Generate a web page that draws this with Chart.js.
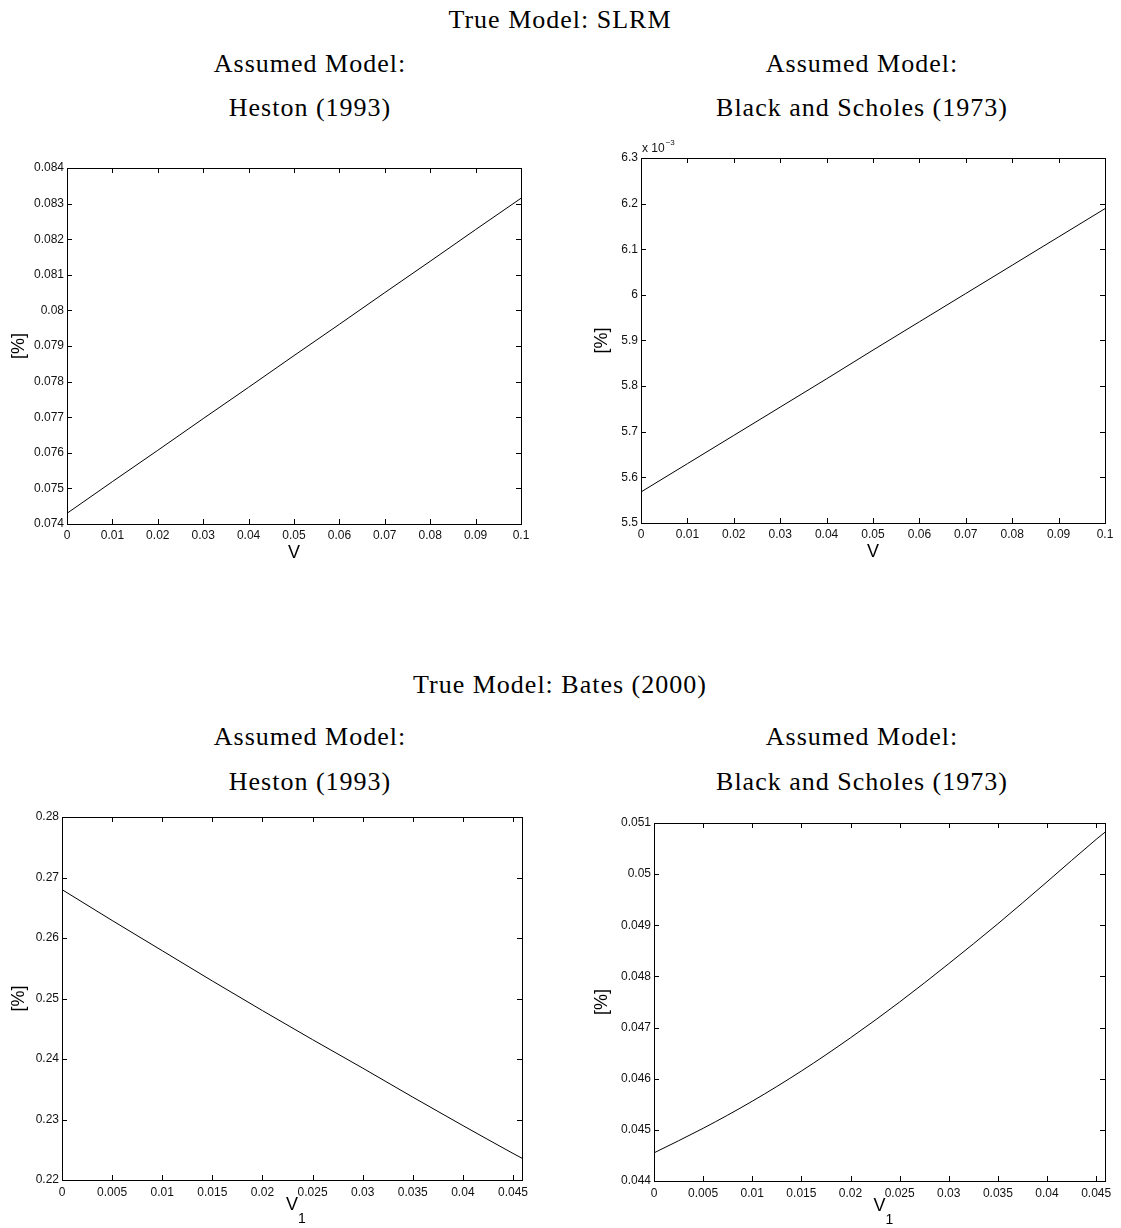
<!DOCTYPE html>
<html>
<head>
<meta charset="utf-8">
<script src="https://cdn.jsdelivr.net/npm/chart.js@4"></script>
<style>
  body { margin: 0; background: #fff; }
  #page { position: relative; width: 1121px; height: 1228px; overflow: hidden; }
  canvas { position: absolute; }
  .ttl {
    position: absolute;
    transform: translate(-50%, -50%);
    font-family: "Liberation Serif", serif;
    font-size: 26px;
    letter-spacing: 1px;
    white-space: nowrap;
    color: #000;
  }
</style>
</head>
<body>
<div id="page">
  <div class="ttl" style="left:560px;top:20px">True Model: SLRM</div>
  <div class="ttl" style="left:310px;top:64px">Assumed Model:</div>
  <div class="ttl" style="left:310px;top:108px">Heston (1993)</div>
  <div class="ttl" style="left:862px;top:64px">Assumed Model:</div>
  <div class="ttl" style="left:862px;top:108px">Black and Scholes (1973)</div>

  <div class="ttl" style="left:560px;top:685px">True Model: Bates (2000)</div>
  <div class="ttl" style="left:310px;top:737px">Assumed Model:</div>
  <div class="ttl" style="left:310px;top:782px">Heston (1993)</div>
  <div class="ttl" style="left:862px;top:737px">Assumed Model:</div>
  <div class="ttl" style="left:862px;top:782px">Black and Scholes (1973)</div>

  <canvas id="c1" width="560" height="424" style="left:0;top:140px"></canvas>
  <canvas id="c2" width="551" height="433" style="left:570px;top:130px"></canvas>
  <canvas id="c3" width="560" height="442" style="left:0;top:790px"></canvas>
  <canvas id="c4" width="551" height="443" style="left:570px;top:790px"></canvas>
</div>
<script>
// x values
const vSlrm = [0, 0.01, 0.02, 0.03, 0.04, 0.05, 0.06, 0.07, 0.08, 0.09, 0.1];
const vBates = [0, 0.005, 0.01, 0.015, 0.02, 0.025, 0.03, 0.035, 0.04, 0.045, 0.0459];

// series (in %)
const slrmHeston = [0.07430, 0.07519, 0.07607, 0.07696, 0.07784, 0.07873, 0.07961, 0.08050, 0.08138, 0.08227, 0.08315];
const slrmBS = [5.568, 5.630, 5.692, 5.754, 5.816, 5.879, 5.941, 6.003, 6.065, 6.127, 6.189]; // x 10^-3
const batesHeston = [0.2680, 0.2629, 0.2579, 0.2529, 0.2480, 0.2432, 0.2385, 0.2337, 0.2290, 0.2244, 0.2236];
const batesBS = [0.04455, 0.04503, 0.04556, 0.04615, 0.04680, 0.04750, 0.04825, 0.04903, 0.04985, 0.05068, 0.05082];

// tick values
const xTicksSlrm = [0, 0.01, 0.02, 0.03, 0.04, 0.05, 0.06, 0.07, 0.08, 0.09, 0.1];
const xTicksBates = [0, 0.005, 0.01, 0.015, 0.02, 0.025, 0.03, 0.035, 0.04, 0.045];
const yTicks1 = [0.074, 0.075, 0.076, 0.077, 0.078, 0.079, 0.08, 0.081, 0.082, 0.083, 0.084];
const yTicks2 = [5.5, 5.6, 5.7, 5.8, 5.9, 6, 6.1, 6.2, 6.3];
const yTicks3 = [0.22, 0.23, 0.24, 0.25, 0.26, 0.27, 0.28];
const yTicks4 = [0.044, 0.045, 0.046, 0.047, 0.048, 0.049, 0.05, 0.051];

Chart.defaults.font.family = "'Liberation Sans', Arial, sans-serif";
Chart.defaults.color = "#111";

// box round the plot with inward tick marks on all four sides
const framePlugin = {
    id: "frame",
    afterDraw(chart, args, opts) {
        const { ctx, chartArea: a, scales } = chart;
        const len = 5;
        ctx.save();
        ctx.strokeStyle = "#000";
        ctx.lineWidth = 1;
        ctx.beginPath();
        scales.x.ticks.forEach((t) => {
            const px = Math.round(scales.x.getPixelForValue(t.value)) + 0.5;
            ctx.moveTo(px, a.bottom);
            ctx.lineTo(px, a.bottom - len);
            ctx.moveTo(px, a.top);
            ctx.lineTo(px, a.top + len);
        });
        scales.y.ticks.forEach((t) => {
            const py = Math.round(scales.y.getPixelForValue(t.value)) + 0.5;
            ctx.moveTo(a.left, py);
            ctx.lineTo(a.left + len, py);
            ctx.moveTo(a.right, py);
            ctx.lineTo(a.right - len, py);
        });
        ctx.stroke();
        ctx.strokeRect(Math.round(a.left) + 0.5, Math.round(a.top) + 0.5,
            Math.round(a.right - a.left), Math.round(a.bottom - a.top));

        // x 10^-3 multiplier
        if (opts.exponent) {
            ctx.fillStyle = "#111";
            ctx.textBaseline = "alphabetic";
            ctx.textAlign = "left";
            ctx.font = "12px 'Liberation Sans', Arial, sans-serif";
            ctx.fillText("x 10", a.left + 1, a.top - 6);
            const w = ctx.measureText("x 10").width;
            ctx.font = "8px 'Liberation Sans', Arial, sans-serif";
            ctx.fillText(opts.exponent, a.left + 2 + w, a.top - 13);
        }
        // subscript on the x title
        if (opts.sub) {
            const cx = (a.left + a.right) / 2;
            const cy = a.bottom + opts.titleOffset;
            ctx.font = "18px 'Liberation Sans', Arial, sans-serif";
            const w = ctx.measureText("V").width;
            ctx.fillStyle = "#000";
            ctx.textAlign = "left";
            ctx.textBaseline = "middle";
            ctx.font = "14px 'Liberation Sans', Arial, sans-serif";
            ctx.fillText(opts.sub, cx + w / 2, cy + 13);
        }
        ctx.restore();
    },
};

const fmt = (v) => String(+v.toFixed(4));

function makeChart(id, xs, ys, c) {
    const ctx = document.getElementById(id).getContext("2d");
    return new Chart(ctx, {
        type: "line",
        data: {
            datasets: [
                {
                    data: xs.map((x, i) => ({ x: x, y: ys[i] })),
                    borderColor: "#000",
                    borderWidth: 1,
                    pointRadius: 0,
                    fill: false,
                    cubicInterpolationMode: "monotone",
                },
            ],
        },
        options: {
            responsive: false,
            animation: false,
            events: [],
            layout: { padding: c.padding },
            plugins: {
                legend: { display: false },
                tooltip: { enabled: false },
                frame: { exponent: c.exponent, sub: c.sub, titleOffset: c.titleOffset },
            },
            scales: {
                x: {
                    type: "linear",
                    min: c.xMin,
                    max: c.xMax,
                    grid: { display: false, drawTicks: false },
                    border: { display: false },
                    afterBuildTicks: (s) => { s.ticks = c.xTicks.map((v) => ({ value: v })); },
                    afterFit: (s) => { s.height = c.xHeight; },
                    ticks: { callback: fmt, padding: c.xPad, maxRotation: 0, autoSkip: false, font: { size: 12 } },
                    title: {
                        display: true,
                        text: "V",
                        color: "#000",
                        padding: 0,
                        font: { size: 18 },
                    },
                },
                y: {
                    min: c.yMin,
                    max: c.yMax,
                    grid: { display: false, drawTicks: false },
                    border: { display: false },
                    afterBuildTicks: (s) => { s.ticks = c.yTicks.map((v) => ({ value: v })); },
                    afterFit: (s) => { s.width = c.yWidth; },
                    ticks: { callback: fmt, padding: 3, autoSkip: false, font: { size: 12 } },
                    title: {
                        display: true,
                        text: "[%]",
                        color: "#000",
                        padding: 0,
                        font: { size: 18 },
                    },
                },
            },
        },
        plugins: [framePlugin],
    });
}

makeChart("c1", vSlrm, slrmHeston, {
    padding: { left: 8, top: 28, right: 39, bottom: 0 },
    xMin: 0, xMax: 0.1, yMin: 0.074, yMax: 0.084,
    xTicks: xTicksSlrm, yTicks: yTicks1,
    xHeight: 40, yWidth: 59, xPad: 4,
});

makeChart("c2", vSlrm, slrmBS, {
    padding: { left: 21, top: 28, right: 16, bottom: 0 },
    xMin: 0, xMax: 0.1, yMin: 5.5, yMax: 6.3,
    xTicks: xTicksSlrm, yTicks: yTicks2,
    xHeight: 40, yWidth: 50, xPad: 4,
    exponent: "\u22123",
});

makeChart("c3", vBates, batesHeston, {
    padding: { left: 8, top: 27, right: 38, bottom: 16 },
    xMin: 0, xMax: 0.0459, yMin: 0.22, yMax: 0.28,
    xTicks: xTicksBates, yTicks: yTicks3,
    xHeight: 36, yWidth: 54, xPad: 5,
    sub: "1", titleOffset: 26,
});

makeChart("c4", vBates, batesBS, {
    padding: { left: 21, top: 33, right: 16, bottom: 16 },
    xMin: 0, xMax: 0.0459, yMin: 0.044, yMax: 0.051,
    xTicks: xTicksBates, yTicks: yTicks4,
    xHeight: 36, yWidth: 63, xPad: 5,
    sub: "1", titleOffset: 26,
});
</script>
</body>
</html>
